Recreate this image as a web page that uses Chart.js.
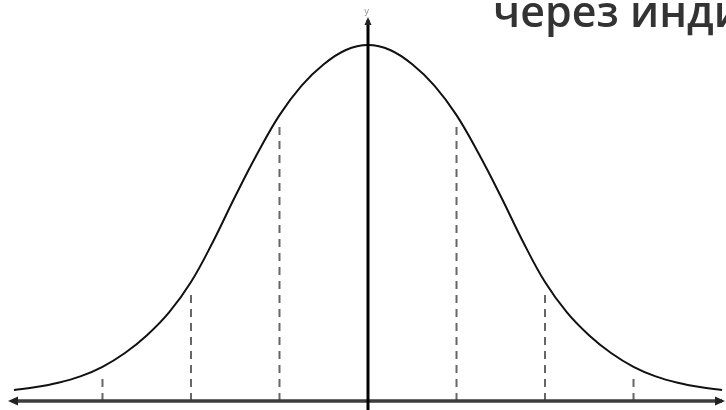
<!DOCTYPE html>
<html>
<head>
<meta charset="utf-8">
<script src="https://cdn.jsdelivr.net/npm/chart.js@4/dist/chart.umd.min.js"></script>
<style>
  body { margin: 0; background: #fff; }
  #wrap { position: relative; width: 726px; height: 410px; }
  #caption {
    position: absolute; left: 493px; top: -19px;
    font-family: "Open Sans", sans-serif; font-size: 43px; font-weight: 600;
    color: #333; white-space: nowrap;
  }
  #ylab {
    position: absolute; left: 364px; top: 6px;
    font-family: "DejaVu Sans", sans-serif; font-size: 9px; color: #999;
  }
</style>
</head>
<body>
<div id="wrap">
  <canvas id="bell" width="726" height="410"></canvas>
  <div id="caption">через инди</div>
  <div id="ylab">y</div>
</div>
<script>
// positions in sigma units, heights with peak = 100
const sigmaX = [-4, -3.75, -3.5, -3.25, -3, -2.75, -2.5, -2.25, -2, -1.75, -1.5, -1.25, -1, -0.75, -0.5, -0.25,
    0, 0.25, 0.5, 0.75, 1, 1.25, 1.5, 1.75, 2, 2.25, 2.5, 2.75, 3, 3.25, 3.5, 3.75, 4];
const curveHeight = [3.1, 3.9, 5.1, 6.9, 9.6, 13.4, 18.4, 24.8, 33.4, 44.8, 57.5, 69.5, 80.3, 88.6, 94.6, 98.6,
    100, 98.6, 94.6, 88.6, 80.3, 69.5, 57.5, 44.8, 33.4, 24.8, 18.4, 13.4, 9.6, 6.9, 5.1, 3.9, 3.1];
const markX = [-3, -2, -1, 1, 2, 3];

function heightAt(x) {
    return curveHeight[sigmaX.indexOf(x)];
}

const datasets = [{
    data: sigmaX.map((x, i) => ({ x: x, y: curveHeight[i] })),
    borderColor: '#111',
    borderWidth: 2,
    pointRadius: 0,
    showLine: true,
    tension: 0.4
}];

markX.forEach(x => {
    datasets.push({
        data: [{ x: x, y: 0 }, { x: x, y: heightAt(x) - 3 }],
        borderColor: '#666',
        borderWidth: 2,
        borderDash: [8, 6],
        pointRadius: 0,
        showLine: true
    });
});

// axes with arrowheads
const axesPlugin = {
    id: 'axes',
    afterDatasetsDraw(chart) {
        const ctx = chart.ctx;
        const xs = chart.scales.x, ys = chart.scales.y;
        const y0 = ys.getPixelForValue(0);
        const x0 = xs.getPixelForValue(0);
        ctx.save();
        // horizontal axis
        ctx.strokeStyle = '#3c3c3c';
        ctx.fillStyle = '#222';
        ctx.lineWidth = 3.5;
        ctx.beginPath();
        ctx.moveTo(12, y0);
        ctx.lineTo(722, y0);
        ctx.stroke();
        ctx.beginPath();
        ctx.moveTo(8, y0); ctx.lineTo(18, y0 - 4.5); ctx.lineTo(18, y0 + 4.5); ctx.closePath();
        ctx.fill();
        ctx.beginPath();
        ctx.moveTo(725, y0); ctx.lineTo(715, y0 - 4.5); ctx.lineTo(715, y0 + 4.5); ctx.closePath();
        ctx.fill();
        // vertical axis
        ctx.strokeStyle = '#000';
        ctx.lineWidth = 3;
        ctx.beginPath();
        ctx.moveTo(x0, 20);
        ctx.lineTo(x0, 410);
        ctx.stroke();
        ctx.beginPath();
        ctx.moveTo(x0, 17); ctx.lineTo(x0 - 3.5, 25); ctx.lineTo(x0 + 3.5, 25); ctx.closePath();
        ctx.fill();
        ctx.restore();
    }
};

new Chart(document.getElementById('bell'), {
    type: 'scatter',
    data: { datasets: datasets },
    options: {
        responsive: false,
        animation: false,
        layout: { padding: 0 },
        plugins: { legend: { display: false }, tooltip: { enabled: false } },
        scales: {
            x: { type: 'linear', display: false, min: -4.158, max: 4.045 },
            y: { type: 'linear', display: false, min: -2.53, max: 112.64 }
        }
    },
    plugins: [axesPlugin]
});
</script>
</body>
</html>
